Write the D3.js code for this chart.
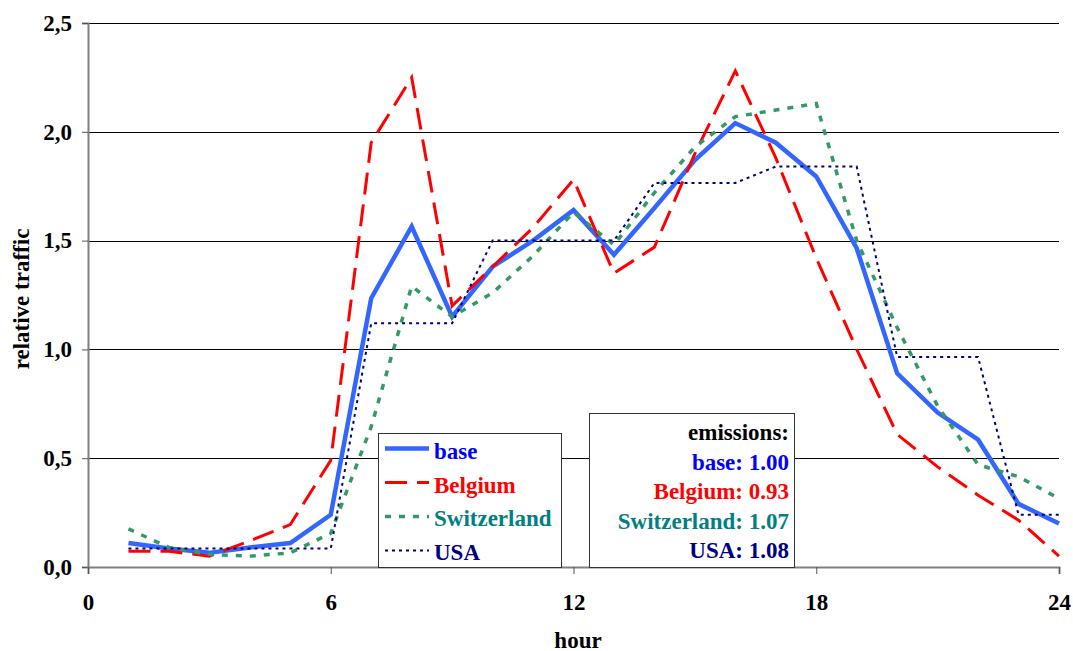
<!DOCTYPE html>
<html>
<head>
<meta charset="utf-8">
<script src="https://cdn.jsdelivr.net/npm/d3@7"></script>
<style>
  html, body { margin: 0; padding: 0; background: #fff; }
  svg text { font-family: "Liberation Serif", "Times New Roman", serif; font-weight: bold; }
</style>
</head>
<body>
<svg id="chart" width="1073" height="651"></svg>
<script>
// ---- data ----
const hours = [1,2,3,4,5,6,7,8,9,10,11,12,13,14,15,16,17,18,19,20,21,22,23,24];
const base        = [0.11, 0.085, 0.065, 0.09, 0.11, 0.24, 1.235, 1.565, 1.15, 1.38, 1.50, 1.64, 1.435, 1.65, 1.87, 2.04, 1.95, 1.795, 1.465, 0.89, 0.71, 0.585, 0.29, 0.20];
const belgium     = [0.072, 0.072, 0.05, 0.12, 0.195, 0.49, 1.95, 2.25, 1.20, 1.38, 1.56, 1.78, 1.35, 1.47, 1.90, 2.28, 1.88, 1.42, 1.00, 0.61, 0.46, 0.33, 0.215, 0.05];
const switzerland = [0.175, 0.09, 0.058, 0.05, 0.065, 0.155, 0.645, 1.29, 1.15, 1.26, 1.43, 1.63, 1.48, 1.72, 1.93, 2.07, 2.10, 2.13, 1.50, 1.10, 0.74, 0.47, 0.415, 0.315];
const usa         = [0.085, 0.085, 0.085, 0.085, 0.085, 0.085, 1.12, 1.12, 1.12, 1.50, 1.50, 1.50, 1.50, 1.765, 1.765, 1.765, 1.84, 1.84, 1.84, 0.965, 0.965, 0.965, 0.24, 0.24];
const seriesNames = ["base", "Belgium", "Switzerland", "USA"];
const emissions   = ["1.00", "0.93", "1.07", "1.08"];
const xTicks = [0, 6, 12, 18, 24];
const yTicks = [0, 0.5, 1.0, 1.5, 2.0, 2.5];

// ---- styles ----
const styles = [
  { stroke: "#3366FF", width: 4.5, dash: null, text: "#0000FF" },
  { stroke: "#FF0000", width: 3, dash: "22,10", text: "#FF0000" },
  { stroke: "#339966", width: 3.5, dash: "6,8", text: "#008080" },
  { stroke: "#000080", width: 2, dash: "3,4", text: "#000080" }
];
const seriesData = [base, belgium, switzerland, usa];

const svg = d3.select("#chart");
const pLeft = 88, pRight = 1059, pTop = 23, pBottom = 567;
const x = d3.scaleLinear().domain([0, 24]).range([pLeft, pRight]);
const y = d3.scaleLinear().domain([0, 2.5]).range([pBottom, pTop]);
const fmt = d => d3.format(".1f")(d).replace(".", ",");
const FS = 23;

// gridlines
svg.append("g").selectAll("line").data(yTicks.filter(d => d > 0)).join("line")
  .attr("x1", pLeft).attr("x2", pRight)
  .attr("y1", d => Math.round(y(d)) + 0.5).attr("y2", d => Math.round(y(d)) + 0.5)
  .attr("stroke", "#000").attr("stroke-width", 1);

// y axis
const yAxis = svg.append("g").attr("transform", `translate(${pLeft},0)`)
  .call(d3.axisLeft(y).tickValues(yTicks).tickFormat(fmt).tickSize(6).tickPadding(10));
yAxis.select(".domain").attr("stroke", "#808080").attr("stroke-width", 2);
yAxis.selectAll(".tick line").attr("stroke", "#555");
yAxis.selectAll(".tick text").attr("font-size", FS).attr("fill", "#000")
  .attr("font-family", "Liberation Serif").attr("font-weight", "bold");

// x axis
const xAxis = svg.append("g").attr("transform", `translate(0,${pBottom})`)
  .call(d3.axisBottom(x).tickValues(xTicks).tickFormat(d3.format("d")).tickSize(7).tickPadding(20));
xAxis.select(".domain").attr("stroke", "#808080").attr("stroke-width", 2);
xAxis.selectAll(".tick line").attr("stroke", "#555");
xAxis.selectAll(".tick text").attr("font-size", FS).attr("fill", "#000")
  .attr("font-family", "Liberation Serif").attr("font-weight", "bold");

// axis titles
svg.append("text").attr("x", 578).attr("y", 648).attr("text-anchor", "middle")
  .attr("font-size", FS).text("hour");
svg.append("text").attr("transform", "translate(29,299) rotate(-90)").attr("text-anchor", "middle")
  .attr("font-size", FS).text("relative traffic");

// lines
const line = d3.line().x((d, i) => x(hours[i])).y(d => y(d));
seriesData.forEach((s, k) => {
  svg.append("path").datum(s).attr("d", line)
    .attr("fill", "none").attr("stroke", styles[k].stroke)
    .attr("stroke-width", styles[k].width)
    .attr("stroke-dasharray", styles[k].dash)
    .attr("stroke-linejoin", "miter");
});

// legend box
const lg = svg.append("g");
lg.append("rect").attr("x", 378.5).attr("y", 433.5).attr("width", 183).attr("height", 134)
  .attr("fill", "#fff").attr("stroke", "#333").attr("stroke-width", 1);
seriesNames.forEach((n, k) => {
  const ly = 448.5 + k * 34;
  lg.append("line").attr("x1", 385).attr("x2", 429).attr("y1", ly).attr("y2", ly)
    .attr("stroke", styles[k].stroke).attr("stroke-width", styles[k].width)
    .attr("stroke-dasharray", styles[k].dash);
  lg.append("text").attr("x", 434).attr("y", 459 + k * 33.7).attr("font-size", FS)
    .attr("fill", styles[k].text).text(n);
});

// emissions box
const eg = svg.append("g");
eg.append("rect").attr("x", 589.5).attr("y", 413.5).attr("width", 205).attr("height", 154)
  .attr("fill", "#fff").attr("stroke", "#333").attr("stroke-width", 1);
eg.append("text").attr("x", 789).attr("y", 440).attr("text-anchor", "end")
  .attr("font-size", FS).attr("fill", "#000").text("emissions:");
seriesNames.forEach((n, k) => {
  eg.append("text").attr("x", 789).attr("y", 469.5 + k * 29.6).attr("text-anchor", "end")
    .attr("font-size", FS).attr("fill", styles[k].text).text(n + ": " + emissions[k]);
});
</script>
</body>
</html>
